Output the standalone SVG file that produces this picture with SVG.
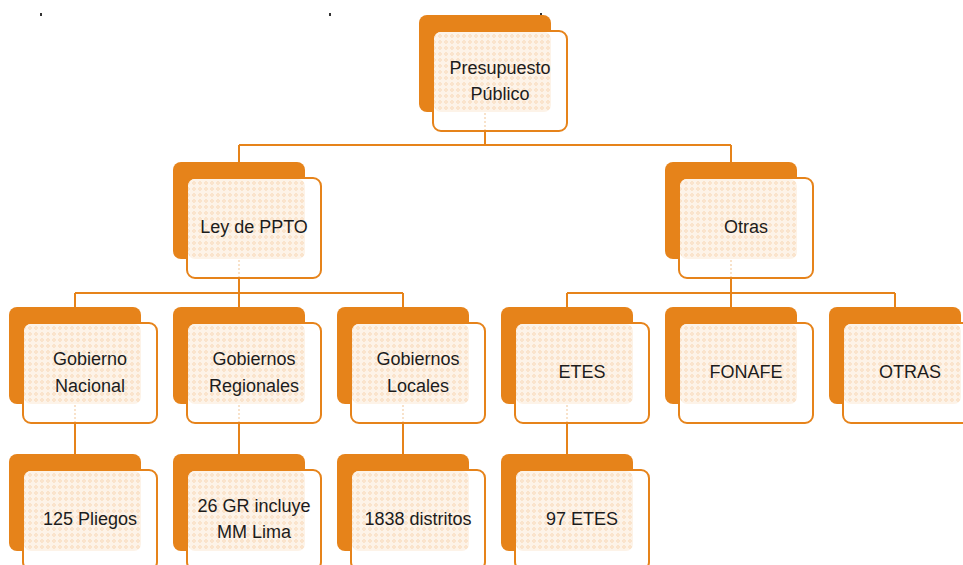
<svg xmlns="http://www.w3.org/2000/svg" width="963" height="565" viewBox="0 0 963 565">
  <defs>
    <!-- faint peach texture seen where the front card overlaps the back card -->
    <pattern id="tex" width="6" height="6" patternUnits="userSpaceOnUse">
      <rect width="6" height="6" fill="#fdf3e8"/>
      <circle cx="3" cy="3" r="1.3" fill="none" stroke="#f6d3ae" stroke-width="0.8"/>
    </pattern>
    <style>
      .back { fill: #e6831a; }
      .front { fill: #ffffff; stroke: #e6831a; stroke-width: 2; }
      .tex { fill: url(#tex); }
      .ghost { stroke: #f3cfa7; stroke-width: 1.2; stroke-dasharray: 2 2; fill: none; }
      .lbl { font-family: "Liberation Sans", Arial, sans-serif; font-size: 18px; fill: #1c1c1c; text-anchor: middle; }
      .conn path { fill: none; stroke: #e6831a; stroke-width: 2; }
      .mark { fill: #333333; }
    </style>
  </defs>

  <rect width="963" height="565" fill="#ffffff"/>

  <!-- stray marks along the top edge -->
  <rect class="mark" x="40" y="13" width="2" height="3"/>
  <rect class="mark" x="329" y="13" width="2" height="3"/>
  <rect class="mark" x="540" y="13" width="2" height="4"/>

  <!-- connectors -->
  <g id="connectors" class="conn">
    <path d="M485,130 V145 M239,145 H731 M239,145 V162 M731,145 V162"/>
    <path d="M239,278 V293 M75,293 H403 M75,293 V307 M239,293 V307 M403,293 V307"/>
    <path d="M731,278 V293 M567,293 H895 M567,293 V307 M731,293 V307 M895,293 V307"/>
    <path d="M75,423 V454 M239,423 V454 M403,423 V454 M567,423 V454"/>
  </g>

  <!-- Level 1 -->
  <g id="presupuesto-publico" transform="translate(419,15)">
    <rect class="back" x="0" y="0" width="132" height="97" rx="8"/>
    <rect class="front" x="14" y="16" width="134" height="100" rx="8"/>
    <rect class="tex" x="15" y="17" width="117" height="80" rx="7"/>
    <line class="ghost" x1="66" y1="98" x2="66" y2="115"/>
    <text class="lbl" x="81" y="59">Presupuesto</text>
    <text class="lbl" x="81" y="85">Público</text>
  </g>

  <!-- Level 2 -->
  <g id="ley-ppto" transform="translate(173,162)">
    <rect class="back" x="0" y="0" width="132" height="97" rx="8"/>
    <rect class="front" x="14" y="16" width="134" height="100" rx="8"/>
    <rect class="tex" x="15" y="17" width="117" height="80" rx="7"/>
    <line class="ghost" x1="66" y1="98" x2="66" y2="115"/>
    <text class="lbl" x="81" y="71">Ley de PPTO</text>
  </g>

  <g id="otras" transform="translate(665,162)">
    <rect class="back" x="0" y="0" width="132" height="97" rx="8"/>
    <rect class="front" x="14" y="16" width="134" height="100" rx="8"/>
    <rect class="tex" x="15" y="17" width="117" height="80" rx="7"/>
    <line class="ghost" x1="66" y1="98" x2="66" y2="115"/>
    <text class="lbl" x="81" y="71">Otras</text>
  </g>

  <!-- Level 3 -->
  <g id="gobierno-nacional" transform="translate(9,307)">
    <rect class="back" x="0" y="0" width="132" height="97" rx="8"/>
    <rect class="front" x="14" y="16" width="134" height="100" rx="8"/>
    <rect class="tex" x="15" y="17" width="117" height="80" rx="7"/>
    <line class="ghost" x1="66" y1="98" x2="66" y2="115"/>
    <text class="lbl" x="81" y="58">Gobierno</text>
    <text class="lbl" x="81" y="85">Nacional</text>
  </g>

  <g id="gobiernos-regionales" transform="translate(173,307)">
    <rect class="back" x="0" y="0" width="132" height="97" rx="8"/>
    <rect class="front" x="14" y="16" width="134" height="100" rx="8"/>
    <rect class="tex" x="15" y="17" width="117" height="80" rx="7"/>
    <line class="ghost" x1="66" y1="98" x2="66" y2="115"/>
    <text class="lbl" x="81" y="58">Gobiernos</text>
    <text class="lbl" x="81" y="85">Regionales</text>
  </g>

  <g id="gobiernos-locales" transform="translate(337,307)">
    <rect class="back" x="0" y="0" width="132" height="97" rx="8"/>
    <rect class="front" x="14" y="16" width="134" height="100" rx="8"/>
    <rect class="tex" x="15" y="17" width="117" height="80" rx="7"/>
    <line class="ghost" x1="66" y1="98" x2="66" y2="115"/>
    <text class="lbl" x="81" y="58">Gobiernos</text>
    <text class="lbl" x="81" y="85">Locales</text>
  </g>

  <g id="etes" transform="translate(501,307)">
    <rect class="back" x="0" y="0" width="132" height="97" rx="8"/>
    <rect class="front" x="14" y="16" width="134" height="100" rx="8"/>
    <rect class="tex" x="15" y="17" width="117" height="80" rx="7"/>
    <line class="ghost" x1="66" y1="98" x2="66" y2="115"/>
    <text class="lbl" x="81" y="71">ETES</text>
  </g>

  <g id="fonafe" transform="translate(665,307)">
    <rect class="back" x="0" y="0" width="132" height="97" rx="8"/>
    <rect class="front" x="14" y="16" width="134" height="100" rx="8"/>
    <rect class="tex" x="15" y="17" width="117" height="80" rx="7"/>
    <text class="lbl" x="81" y="71">FONAFE</text>
  </g>

  <g id="otras-entidades" transform="translate(829,307)">
    <rect class="back" x="0" y="0" width="132" height="97" rx="8"/>
    <rect class="front" x="14" y="16" width="134" height="100" rx="8"/>
    <rect class="tex" x="15" y="17" width="117" height="80" rx="7"/>
    <text class="lbl" x="81" y="71">OTRAS</text>
  </g>

  <!-- Level 4 -->
  <g id="pliegos" transform="translate(9,454)">
    <rect class="back" x="0" y="0" width="132" height="97" rx="8"/>
    <rect class="front" x="14" y="16" width="134" height="100" rx="8"/>
    <rect class="tex" x="15" y="17" width="117" height="80" rx="7"/>
    <text class="lbl" x="81" y="71">125 Pliegos</text>
  </g>

  <g id="gr-lima" transform="translate(173,454)">
    <rect class="back" x="0" y="0" width="132" height="97" rx="8"/>
    <rect class="front" x="14" y="16" width="134" height="100" rx="8"/>
    <rect class="tex" x="15" y="17" width="117" height="80" rx="7"/>
    <text class="lbl" x="81" y="58">26 GR incluye</text>
    <text class="lbl" x="81" y="84">MM Lima</text>
  </g>

  <g id="distritos" transform="translate(337,454)">
    <rect class="back" x="0" y="0" width="132" height="97" rx="8"/>
    <rect class="front" x="14" y="16" width="134" height="100" rx="8"/>
    <rect class="tex" x="15" y="17" width="117" height="80" rx="7"/>
    <text class="lbl" x="81" y="71">1838 distritos</text>
  </g>

  <g id="etes-97" transform="translate(501,454)">
    <rect class="back" x="0" y="0" width="132" height="97" rx="8"/>
    <rect class="front" x="14" y="16" width="134" height="100" rx="8"/>
    <rect class="tex" x="15" y="17" width="117" height="80" rx="7"/>
    <text class="lbl" x="81" y="71">97 ETES</text>
  </g>
</svg>
